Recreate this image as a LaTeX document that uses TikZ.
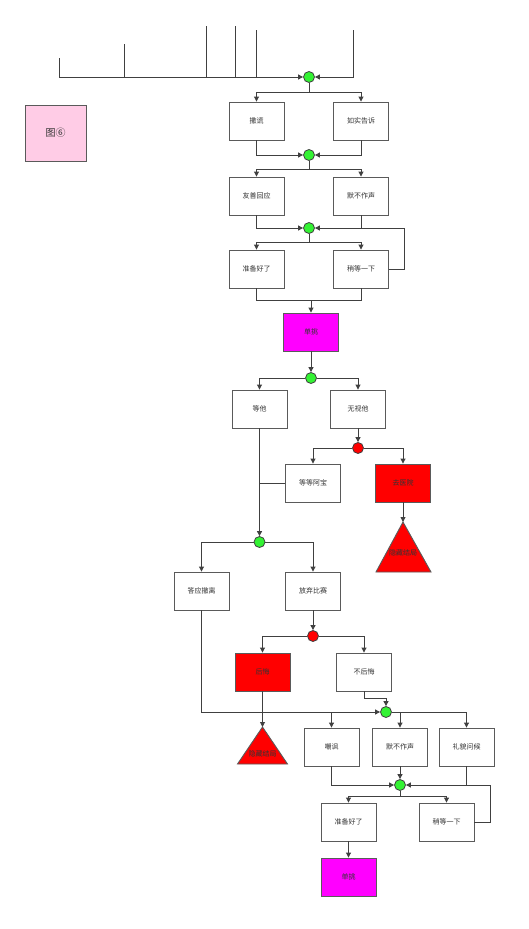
\documentclass[tikz,border=0pt]{standalone}
\usepackage{fontspec}
\newfontfamily\cjk{Noto Sans CJK SC}
\usetikzlibrary{arrows.meta}
\definecolor{gdot}{HTML}{33F233}
\definecolor{rdot}{HTML}{FF0000}
\definecolor{mag}{HTML}{FF00FF}
\definecolor{pinkbox}{HTML}{FFCCE6}
\definecolor{linec}{HTML}{404040}
\definecolor{boxc}{HTML}{5A5A5A}
\definecolor{txtc}{HTML}{333333}
\tikzset{
  box/.style={draw=boxc, line width=0.9pt, minimum width=55pt, minimum height=38pt, inner sep=0pt,
    font=\cjk\fontsize{7}{8}\selectfont, text=txtc},
  redbox/.style={box, fill=rdot},
  magbox/.style={box, fill=mag},
  gdotn/.style={circle, draw=linec, line width=0.8pt, fill=gdot, minimum size=11pt, inner sep=0pt},
  rdotn/.style={circle, draw=linec, line width=0.8pt, fill=rdot, minimum size=11pt, inner sep=0pt},
  ln/.style={draw=linec, line width=0.9pt},
  arr/.style={ln, -{Triangle[length=5pt,width=5pt]}},
  tri/.style={draw=boxc, line width=0.9pt, fill=rdot},
  tritext/.style={font=\cjk\fontsize{7}{8}\selectfont, text=txtc, inner sep=0pt}
}
\begin{document}
\begin{tikzpicture}[x=1pt,y=-1pt]
\useasboundingbox (0,0) rectangle (528,929);

% legend box
\node[box, fill=pinkbox, minimum width=61pt, minimum height=56pt, font=\cjk\fontsize{10}{12}\selectfont] (p1) at (55.5,133) {图⑥};

% top incoming lines
\coordinate (t1) at (59,58);
\coordinate (t2) at (124,44);
\coordinate (t3) at (206,26);
\coordinate (t4) at (235,26);
\coordinate (t5) at (256,30);
\coordinate (t6) at (353,30);
\node[gdotn] (c1) at (309,77) {};
\draw[arr] (t1) |- (c1);
\draw[ln] (t2) -- (t2 |- c1);
\draw[ln] (t3) -- (t3 |- c1);
\draw[ln] (t4) -- (t4 |- c1);
\draw[ln] (t5) -- (t5 |- c1);
\draw[arr] (t6) |- (c1);

% row 1
\node[box] (b1) at (256.5,121) {撒谎};
\node[box] (b2) at (361,121) {如实告诉};
\coordinate (j1) at (309,92);
\draw[ln] (c1) -- (j1);
\draw[arr] (j1) -| (b1);
\draw[arr] (j1) -| (b2);
\node[gdotn] (c2) at (309,155) {};
\draw[arr] (b1) |- (c2);
\draw[arr] (b2) |- (c2);

% row 2
\node[box] (b3) at (256.5,196) {友善回应};
\node[box] (b4) at (361,196) {默不作声};
\coordinate (j2) at (309,169);
\draw[ln] (c2) -- (j2);
\draw[arr] (j2) -| (b3);
\draw[arr] (j2) -| (b4);
\node[gdotn] (c3) at (309,228) {};
\draw[arr] (b3) |- (c3);
\draw[ln] (b4) -- (b4 |- c3);

% row 3
\node[box] (b5) at (256.5,269) {准备好了};
\node[box] (b6) at (361,269) {稍等一下};
\coordinate (j3) at (309,242);
\draw[ln] (c3) -- (j3);
\draw[arr] (j3) -| (b5);
\draw[arr] (j3) -| (b6);
\coordinate (l1) at (404,269);
\draw[arr] (b6) -- (l1) |- (c3);

% duel 1
\node[magbox] (d1) at (311,332) {单挑};
\coordinate (j4) at (311,300);
\draw[ln] (b5) |- (j4);
\draw[ln] (b6) |- (j4);
\draw[arr] (j4) -- (d1);

\node[gdotn] (c4) at (311,378) {};
\draw[arr] (d1) -- (c4);
\node[box] (b7) at (259.5,409) {等他};
\node[box] (b8) at (358,409) {无视他};
\draw[arr] (c4) -| (b7);
\draw[arr] (c4) -| (b8);

\node[rdotn] (r1) at (358,448) {};
\draw[arr] (b8) -- (r1);
\node[box] (b9) at (313,483) {等等阿宝};
\node[redbox] (b10) at (403,483) {去医院};
\draw[arr] (r1) -| (b9);
\draw[arr] (r1) -| (b10);

\coordinate (tri1) at (403,522);
\draw[tri] (tri1) -- (431,572) -- (376,572) -- cycle;
\node[tritext] (tt1) at (403,553) {隐藏结局};
\draw[arr] (b10) -- (tri1);

\node[gdotn] (c5) at (259.5,542) {};
\draw[arr] (b7) -- (c5);
\coordinate (j5) at (259.5,483);
\draw[ln] (b9) -- (j5);

\node[box] (b11) at (201.5,591) {答应撤离};
\node[box] (b12) at (313,591) {放弃比赛};
\draw[arr] (c5) -| (b11);
\draw[arr] (c5) -| (b12);

\node[rdotn] (r2) at (313,636) {};
\draw[arr] (b12) -- (r2);
\node[redbox] (b13) at (262.5,672) {后悔};
\node[box] (b14) at (364,672) {不后悔};
\draw[arr] (r2) -| (b13);
\draw[arr] (r2) -| (b14);

\node[gdotn] (c6) at (386,712) {};
\draw[arr] (b11) |- (c6);
\coordinate (tri2) at (262.5,727);
\draw[tri] (tri2) -- (287.5,764) -- (237.5,764) -- cycle;
\node[tritext] (tt2) at (262.5,754) {隐藏结局};
\draw[arr] (b13) -- (tri2);
\coordinate (j6) at (364,698);
\draw[ln] (b14) -- (j6);
\draw[arr] (j6) -| (c6);

% row after c6
\node[box] (b15) at (331.5,747) {嘲讽};
\node[box] (b16) at (400,747) {默不作声};
\node[box] (b17) at (466.5,747) {礼貌问候};
\coordinate (j7) at (331.5,712);
\draw[arr] (j7) -- (b15);
\draw[arr] (c6) -| (b16);
\draw[arr] (c6) -| (b17);

\node[gdotn] (c7) at (400,785) {};
\draw[arr] (b16) -- (c7);
\draw[arr] (b15) |- (c7);
\coordinate (j8) at (466.5,785);
\draw[ln] (b17) -- (j8);

\node[box] (b18) at (348.5,822) {准备好了};
\node[box] (b19) at (446.5,822) {稍等一下};
\coordinate (j9) at (400,796);
\draw[ln] (c7) -- (j9);
\draw[arr] (j9) -| (b18);
\draw[arr] (j9) -| (b19);
\coordinate (l2) at (490,822);
\draw[arr] (b19) -- (l2) |- (c7);

\node[magbox] (d2) at (348.5,877) {单挑};
\draw[arr] (b18) -- (d2);
\end{tikzpicture}
\end{document}
